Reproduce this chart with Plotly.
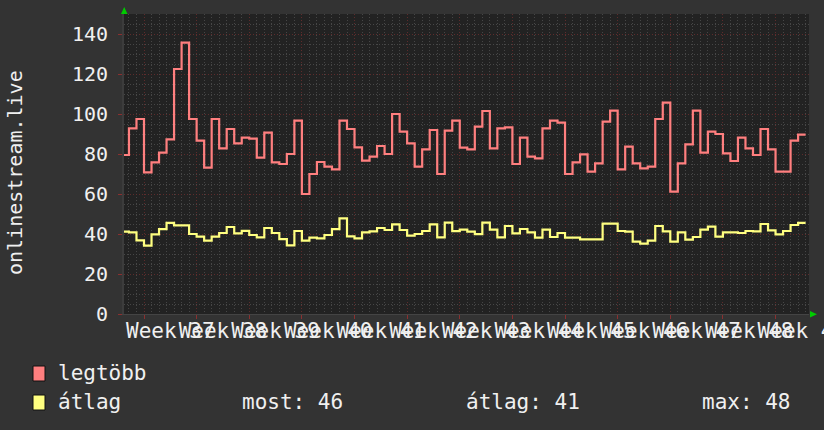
import plotly.graph_objects as go

# ---------------- data ----------------
first_day = -3  # start day of first daily sample, relative to Monday of Week 37
legtobb = [79.5, 92.8, 97.5, 70.8, 75.8, 80.7, 87.3, 122.5, 135.7, 97.5,
           86.7, 73.2, 97.5, 82.8, 92.5, 85.3, 88.2, 87.7, 78.2, 90.7,
           75.8, 75.0, 80.0, 96.7, 60.0, 70.0, 76.0, 73.7, 72.3, 96.7,
           92.5, 83.3, 76.7, 78.7, 84.0, 80.0, 100.0, 91.2, 85.3, 73.7,
           82.3, 92.0, 70.0, 91.7, 96.7, 83.2, 82.3, 93.7, 101.5, 82.8,
           92.8, 93.3, 75.0, 88.2, 78.7, 77.8, 92.8, 96.7, 95.7, 70.0,
           75.8, 79.8, 71.2, 75.3, 96.2, 101.7, 72.3, 83.7, 75.3, 72.8,
           73.7, 97.5, 105.7, 61.2, 75.3, 84.8, 101.7, 80.7, 91.2, 90.0,
           80.3, 76.5, 88.2, 82.8, 79.5, 92.5, 82.3, 71.2, 71.2, 86.7,
           89.7]
atlag = [41.2, 40.8, 36.8, 34.2, 39.8, 42.4, 45.6, 44.3, 44.3, 40.0,
         38.7, 36.7, 38.7, 40.5, 43.5, 40.3, 41.6, 39.5, 38.3, 43.0,
         40.5, 37.4, 34.3, 41.5, 36.7, 38.2, 37.8, 39.5, 42.4, 47.8,
         38.8, 37.8, 40.8, 41.3, 43.0, 42.0, 44.8, 42.0, 39.2, 40.0,
         41.5, 44.8, 38.3, 45.7, 41.4, 42.2, 41.2, 39.9, 45.7, 42.2,
         38.3, 44.0, 40.3, 42.5, 40.8, 38.2, 42.2, 38.5, 40.5, 38.2,
         38.2, 37.3, 37.3, 37.3, 45.2, 45.2, 41.5, 41.2, 36.2, 35.2,
         36.7, 44.0, 41.3, 36.2, 40.8, 37.2, 38.5, 42.2, 43.7, 38.7,
         40.8, 40.8, 40.5, 41.5, 41.3, 45.0, 41.8, 39.8, 41.5, 44.5,
         45.6]
week_numbers = list(range(37, 50))
week_labels = [f"Week {w}" for w in week_numbers]
y_ticks = [0, 20, 40, 60, 80, 100, 120, 140]
series_names = ["legtöbb", "átlag"]
y_title = "onlinestream.live"

# ---------------- derived ----------------
days = [first_day + i for i in range(len(legtobb))]
x_steps = days + [days[-1] + 1]
red_steps = legtobb + [legtobb[-1]]
yel_steps = atlag + [atlag[-1]]
week_mid = [7 * i + 3.5 for i in range(len(week_numbers))]
stat_now = atlag[-1]
stat_avg = sum(atlag) / len(atlag)
stat_max = max(atlag)

# ---------------- style ----------------
FONT = "DejaVu Sans Mono"
BG = "#333333"
PLOT_BG = "#222222"
TXT = "#f0f0f0"
RED = "#ff7f7f"
YEL = "#ffff80"
MAJ = "#5e2c2c"
MIN = "#464646"

W, H = 824, 430
L, R, T, B = 124, 15, 14, 116
PW, PH = W - L - R, H - T - B
X0, X1 = -2.66, 88.45


def px(X):
    return (X - L) / PW


def py(Y):
    return (H - B - Y) / PH


fig = go.Figure()
fig.add_trace(go.Scatter(x=x_steps, y=red_steps, mode="lines", line_shape="hv",
                         line=dict(color=RED, width=2.2), name=series_names[0],
                         hoverinfo="skip"))
fig.add_trace(go.Scatter(x=x_steps, y=yel_steps, mode="lines", line_shape="hv",
                         line=dict(color=YEL, width=2.2), name=series_names[1],
                         hoverinfo="skip"))
# invisible trace to carry the label axis
fig.add_trace(go.Scatter(x=[X0, X1], y=[0, 0], xaxis="x2", mode="lines",
                         line=dict(width=0), showlegend=False, hoverinfo="skip"))

fig.update_layout(
    width=W, height=H,
    margin=dict(l=L, r=R, t=T, b=B, autoexpand=False),
    paper_bgcolor=BG, plot_bgcolor=PLOT_BG,
    showlegend=False,
    font=dict(family=FONT, color=TXT, size=20),
    xaxis=dict(range=[X0, X1], tickmode="linear", tick0=0, dtick=7,
               showticklabels=False, ticks="outside", ticklen=4,
               tickcolor="#8a3030", showgrid=True, gridcolor=MAJ,
               griddash="1px,2px", gridwidth=1,
               minor=dict(tickmode="linear", tick0=0, dtick=1, showgrid=True,
                          gridcolor=MIN, griddash="1px,2px", gridwidth=1),
               showline=True, linecolor="#444444", linewidth=1,
               zeroline=False, fixedrange=True),
    xaxis2=dict(range=[X0, X1], overlaying="x", side="bottom",
                tickmode="array", tickvals=week_mid, ticktext=week_labels,
                tickangle=0, ticks="", showgrid=False, zeroline=False,
                showline=False, ticklabeloverflow="allow",
                tickfont=dict(family=FONT, size=21, color=TXT),
                ticklabelstandoff=2),
    yaxis=dict(range=[0, 150], tickmode="array", tickvals=y_ticks,
               ticks="outside", ticklen=4, tickcolor="#8a3030",
               ticklabelstandoff=6,
               tickfont=dict(family=FONT, size=20, color=TXT),
               showgrid=True, gridcolor=MAJ, griddash="1px,2px", gridwidth=1,
               minor=dict(tickmode="linear", tick0=0, dtick=5, showgrid=True,
                          gridcolor=MIN, griddash="1px,2px", gridwidth=1),
               showline=True, linecolor="#3c3c3c", linewidth=2,
               zeroline=False, fixedrange=True),
)

shapes = []
# legend boxes
for i, col in enumerate([RED, YEL]):
    y_top = 366 + 29 * i
    shapes.append(dict(type="rect", xref="paper", yref="paper",
                       x0=px(33), x1=px(45), y0=py(y_top), y1=py(y_top + 15),
                       fillcolor=col, line=dict(color="#111111", width=1)))
# green arrows
shapes.append(dict(type="path", xref="paper", yref="paper",
                   path=f"M {px(121)} {py(14)} L {px(127.5)} {py(14)} L {px(124.2)} {py(7)} Z",
                   fillcolor="#00cc00", line=dict(width=0)))
shapes.append(dict(type="path", xref="paper", yref="paper",
                   path=f"M {px(810)} {py(311)} L {px(810)} {py(317.5)} L {px(817)} {py(314.2)} Z",
                   fillcolor="#00cc00", line=dict(width=0)))
fig.update_layout(shapes=shapes)

ann = []
# y-axis title (rotated)
ann.append(dict(text=y_title, xref="paper", yref="paper", x=px(15), y=py(172),
                xanchor="center", yanchor="middle", textangle=-90, showarrow=False,
                font=dict(family=FONT, size=20, color=TXT)))
legend_rows = [
    (series_names[0], 58, 373),
    (series_names[1], 58, 402),
    (f"most: {stat_now:.0f}", 242, 402),
    (f"átlag: {stat_avg:.0f}", 466, 402),
    (f"max: {stat_max:.0f}", 702, 402),
]
for text, X, Y in legend_rows:
    ann.append(dict(text=text, xref="paper", yref="paper", x=px(X - 2), y=py(Y),
                    xanchor="left", yanchor="middle", showarrow=False,
                    font=dict(family=FONT, size=21, color=TXT)))
fig.update_layout(annotations=ann)

fig.write_html("out.html", config={"displayModeBar": False},
               post_script="document.body.style.margin='0';document.body.style.background='#333333';")
